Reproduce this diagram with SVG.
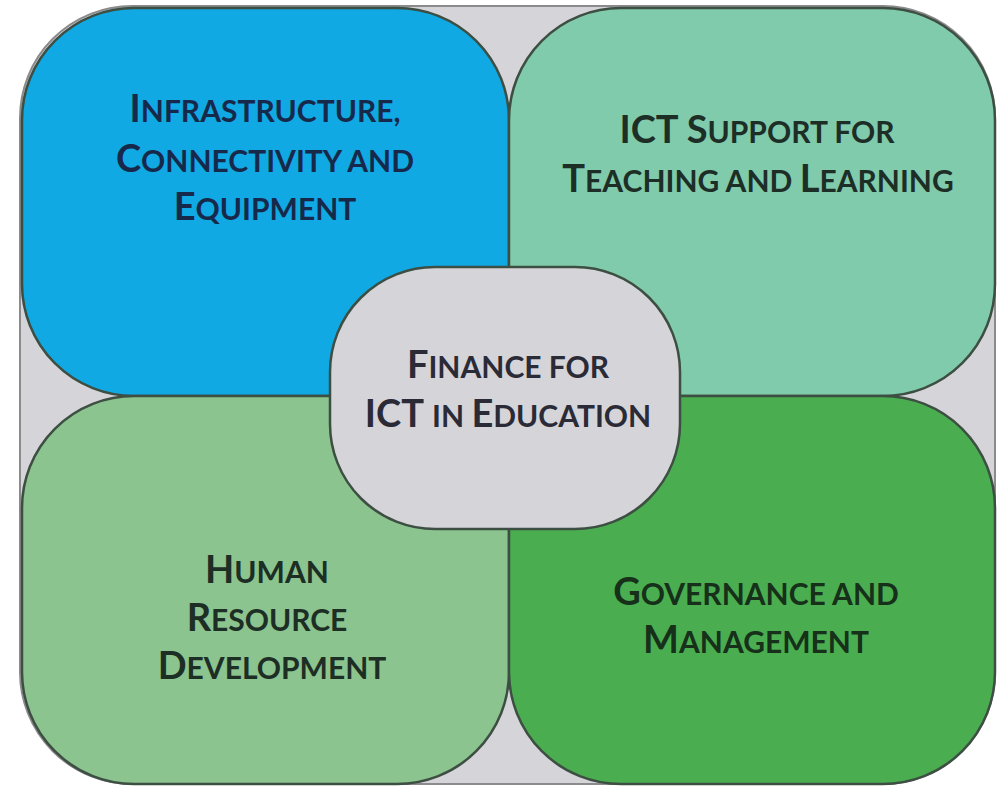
<svg xmlns="http://www.w3.org/2000/svg" width="999" height="787" viewBox="0 0 999 787">
<style>
.q{stroke:#3d4e42;stroke-width:2.5}
.t{font-family:Lato,"Open Sans","Liberation Sans",sans-serif;font-weight:bold;text-anchor:middle;font-size:38px}
.s{font-size:30px}
</style>
<rect x="0" y="0" width="999" height="787" fill="#ffffff"/>
<rect x="20" y="6" width="975" height="778" rx="112" ry="112" fill="#d5d4d9" stroke="#8b8b8d" stroke-width="2"/>
<g id="infrastructure">
<rect class="q" x="22" y="8" width="487" height="388" rx="112" ry="112" fill="#10a9e4"/>
<text class="t" fill="#17294a"><tspan x="265" y="122">I<tspan class="s">NFRASTRUCTURE,</tspan></tspan><tspan x="265" y="172">C<tspan class="s">ONNECTIVITY AND</tspan></tspan><tspan x="265" y="220">E<tspan class="s">QUIPMENT</tspan></tspan></text>
</g>
<g id="ict-support">
<rect class="q" x="509" y="8" width="486" height="388" rx="112" ry="112" fill="#80cbab"/>
<text class="t" fill="#1d2e27"><tspan x="757" y="143">ICT S<tspan class="s">UPPORT FOR</tspan></tspan><tspan x="758" y="192">T<tspan class="s">EACHING AND </tspan>L<tspan class="s">EARNING</tspan></tspan></text>
</g>
<g id="human-resource">
<rect class="q" x="22" y="396" width="487" height="388" rx="112" ry="112" fill="#8bc48e"/>
<text class="t" fill="#1d2e25"><tspan x="267" y="583">H<tspan class="s">UMAN</tspan></tspan><tspan x="267" y="631">R<tspan class="s">ESOURCE</tspan></tspan><tspan x="272" y="679">D<tspan class="s">EVELOPMENT</tspan></tspan></text>
</g>
<g id="governance">
<rect class="q" x="509" y="396" width="486" height="388" rx="112" ry="112" fill="#4aae50"/>
<text class="t" fill="#16301a"><tspan x="756" y="605">G<tspan class="s">OVERNANCE AND</tspan></tspan><tspan x="756" y="653">M<tspan class="s">ANAGEMENT</tspan></tspan></text>
</g>
<g id="connectors"/>
<g id="finance">
<rect class="q" x="330" y="267" width="350" height="262" rx="105" ry="105" fill="#d5d4d9"/>
<text class="t" fill="#2a2b36"><tspan x="508" y="378">F<tspan class="s">INANCE FOR</tspan></tspan><tspan x="508" y="427">ICT <tspan class="s">IN </tspan>E<tspan class="s">DUCATION</tspan></tspan></text>
</g>
</svg>
